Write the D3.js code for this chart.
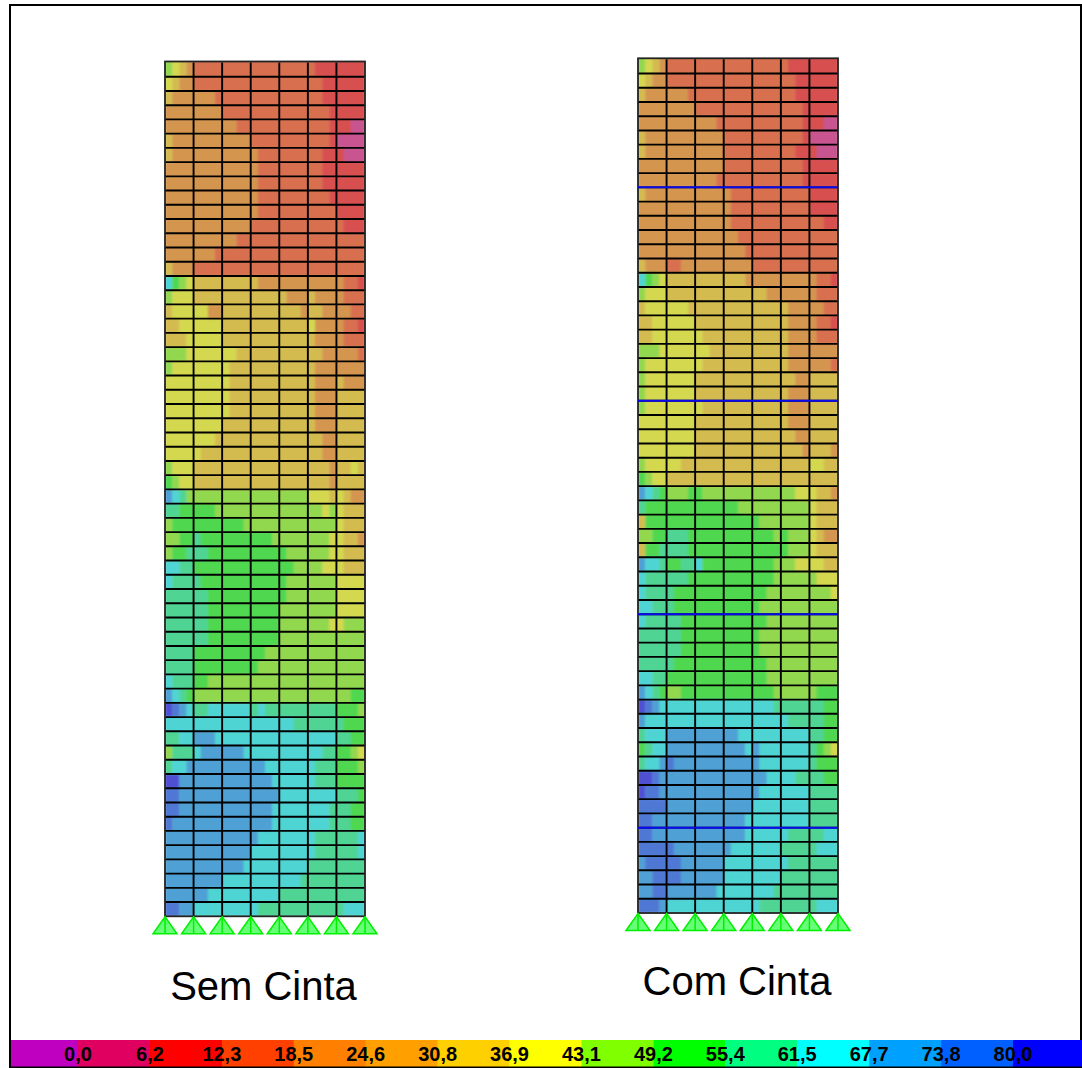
<!DOCTYPE html>
<html><head><meta charset="utf-8">
<script src="https://cdn.jsdelivr.net/npm/d3@7"></script>
<style>html,body{margin:0;padding:0;background:#fff}svg{display:block}</style>
</head><body><svg id="c" width="1082" height="1068"></svg>
<script>
// Stress bands (a = lowest ... m = highest), 4 samples per panel, 60 courses.
const bandKeys = "abcdefghijklm".split("");
const bandColors = ["#c8558f","#d85050","#d87050","#d49550","#d4bb50","#d4d850","#92d850","#50d850","#50d494","#50d4d4","#50a0d4","#5078d4","#5050d4"];
const semCinta = [
"gfed cccc cccc cccc cccc cbbb bbbb","fedd cccc cccc cccc cccc ccbb bbbb","eddd dddc cccc cccc cccc ccbb bbbb",
"dddd dddd cccc cccc cccc cccb bbbb","dddd dddd ddcc cccc cccc cccb bbaa","eddd dddd dddd cccc cccc cccb aaaa",
"eddd dddd dddd dccc cccc ccbb baaa","dddd dddd dddd dccc cccc ccbb bbbb","dddd dddd dddd dccc cccc ccbb bbbb",
"dddd dddd dddd dccc cccc cccb bbbb","dddd dddd dddd dccc cccc cccc bbbb","dddd dddd dddd cccc cccc cccc cbbb",
"dddd dddd ddcc cccc cccc cccc cccc","dddd dddc cccc cccc cccc cccc cccc","eddd cccc cccc cccc cccc cccc cccc",
"jhgf eeee eeee eddd dddd dddd dccb","gfff eeee eeee eeee eddd eddd dccc","efff ffdd eeee eeee eeed eedd ddcc",
"eeff ffff eeee eeee eeee fddd dccb","eeef ffff eeee eeee eeee eddd dccc","gggf ffff ffee eeee eeee eedd dddc",
"gfff ffff feee eeee eeee eddd dddd","ffff ffff feee eeee eeee eddd eddd","ffff ffff feee eeee eeee eddd eeee",
"ffff ffff feee eeee eeee eddd eeee","ffff ffff eeee eeee eeee eddd eeee","ffff fffe eeee eeee eeee eedd eeee",
"ffff feee eeee eeee eeee eedd eeee","gfff eeee eeee eeee eeee eeed eefe","hgff eeee eeee eeee eeee eeed eeee",
"kjig gggg gggg gggg gggg fffe fedd","iihh hhhg gggg gggg gggg ggfg feee","ghhh hhhh hhhg gggg gggg gggg feee",
"gghh ihhh hhhh hhhg gggg gggf feed","ghhi iihh hhhh hhhh hggg gggf feee","jjii hhhh hhhh hhhh hhgg ggff feee",
"jiii ihhh hhhh hhhh hggg gggg ffff","iiii iihh hhhh hhhh hggg gggg ffff","iiii iihh hhhh hhhh gggg gggg ffff",
"iiii iihh hhhh hhhh gggg gggf fggg","iiii iihh hhhh hhhh gggg gggg gggg","iiii hhhh hhhh hhgg gggg gggg gggg",
"iiii hhhh hhhh hggg gggg gggg gggg","jiii hhgg gggg gggg gggg gggg gggg","kjih gggg gggg gggg gggg gggg gghh",
"mlkj iijj jjjj ijii iiii iiii hhhg","jjjj jjjj jjjj jjjj jjii iiii ihhh","iijj kkkj jjjj jjjj jjjj jjjj iihh",
"giii jkkk kkkj jjjj jjjj jjii hhgf","ijjk kkkk kkkk kkjj jjjj jiii hhhg","mmkk kkkk kkkk kkkj jjjj jiii hhhh",
"llkk kkkk kkkk kkkk jjjj jjjj iiih","llkk kkkk kkkk kkkj jjjj jjji iihh","lkkk kkkk kkkk kkkj jjjj jjji iihh",
"kkkk kkkk kkkk kjjj jjjj jiii iiij","kkkk kkkk kkkk jjjj jjjj jiii iiij","kkkk kkkk kkkj jjjj jjjj iiii iiii",
"kkkk kkkk jjjj jjjj jjji iiii iiii","kkkk kkjj jjjj jjjj iiii iiii iiii","llkk jjjj jjjj jiii iiii iiii ijjj"
];
const comCinta = [
"gfed cccc cccc cccc cccc cbbb bbbb","fedd cccc cccc cccc cccc ccbb bbbb","eddd dddc cccc cccc cccc ccbb bbbb",
"dddd dddd cccc cccc cccc cccb bbbb","dddd dddd dddc cccc cccc cccb bbaa","eddd dddd dddd cccc cccc cccb aaaa",
"eddd dddd dddd cccc cccc ccbb baaa","dddd dddd dddd cccc cccc cccb bbbb","dddd dddd dddc cccc cccc cccb bbbb",
"eddd dddd dddd dccc cccc cccc bbbb","dddd dddd dddd dccc cccc cccc bbbb","dddd dddd dddd dccc cccc cccc ccbb",
"dddd dddd dddd ddcc cccc cccc cccc","dddd dddd dddd dddc cccc cccc cccc","eddd ccdd dddd dddd cccc cccc cccc",
"jhgf eeee eeee eeed dddd dddd dccb","gfff eeee eeee eeee eedd dddd dccc","efff fffe eeee eeee eeee eddd ddcc",
"eeff ffff eeee eeee eeee eddd dccb","eeff ffff feee eeee eeee eddd dccc","gggf ffff ffee eeee eeee eddd dddd",
"gfff ffff feee eeee eeee eddd dddc","gfff ffff eeee eeee eeee eedd eeee","gfff ffff eeee eeee eeee eddd eeee",
"gfff ffff feee eeee eeee eddd eeee","ffff ffff eeee eeee eeee eddd eeee","ffff ffff eeee eeee eeee eedd eeee",
"ffff ffff eeee eeee eeee eeed eeed","gfff ffee eeee eeee eeee eeee ffee","hgff eeee eeee eeee eeee eeee eeee",
"kjih gggh hggg gggg gggg ggff feed","ihhh hhhh hhhh hhgg gggg gggg feee","ehhh hhhh hhhh hhhh hggg gggg feee",
"gghh iiih hhhh hhhh hhhg hggg fedd","ehhi iiih hhhh hhhh hhhh hggg feee","kjji hhii jhhh hhhh hhhg ggff ffee",
"jiii iiih hhhh hhhh hhhg gggg gfff","jiii ihhh hhhh hhhh hhgg gggg gggf","jjii ihhh hhhh hhhh hggg gggg gggg",
"jiii iihh hhhh hhhh hhgg gggg gggg","iiii iihh hhhh hhhh hggg gggg gggg","iiii iihh hhhh hhhh hggg gggg gggg",
"iiii ihhh hhhh hhhh hhgg gggg gggg","jjii hhhh hhhh hhhh hhgg gggg gggg","kjih gghh hhhh hhhh hhhg gggg ghhh",
"mlkj jjjj jjjj jjjj jjji iiii iihh","kjjj jjjj jjjj jjjj jjjj jiii iihh","ijjj kkkk kkkk kkjj jjjj jjjj iihh",
"hijj kkkk kkkk kkkj kjjj jjjj ihgf","ijjk lkkk kkkk kkkk kjjj jjjj ihhh","mmlk kkkk kkkk kkkk kkjj jjii iihh",
"mllk kkkk kkkk kkkk kjjj jjjj iiii","llll kkkk kkkk kkkk jjjj jjjj iiii","llkk kkkk kkkk kkkj jjjj jjjj iiii",
"llkk kkkk kkkk kkkj jjjj jiii iijj","llll lkkk kkkk kjjj jjjj iiii ijjj","klll llkk kkkk jjjj jjjj jiii iiii",
"kkll llkk kkkk jjjj jjjj iiii iiii","kkll kkkk kkkj jjjj jjji iiii iiii","lllk jjjj jjjj jjjj jiii iiii ijjj"
];
const beamCourses = [9, 24, 39, 54];
const panelCount = 7, courseCount = 60;
const legendTicks = ["0,0","6,2","12,3","18,5","24,6","30,8","36,9","43,1","49,2","55,4","61,5","67,7","73,8","80,0"];
const legendColors = ["#c000c0","#e00060","#ff0000","#ff4000","#ff8000","#ffa000","#ffd000","#ffff00","#80ff00","#00ff00","#00ff80","#00ffff","#00a0ff","#0060ff","#0000ff"];

const svg = d3.select("#c");
const band = d3.scaleOrdinal(bandKeys, bandColors);
const defs = svg.append("defs");
defs.append("filter").attr("id","soft").attr("x","-2%").attr("y","-2%").attr("width","104%").attr("height","104%")
  .append("feGaussianBlur").attr("stdDeviation",1.1);

// frame
svg.append("rect").attr("x",10).attr("y",5).attr("width",1071).attr("height",1062)
  .attr("fill","#fff").attr("stroke","#000").attr("stroke-width",2);

function wall(rows, box, title, beams) {
  const x = d3.scaleLinear([0, panelCount], [box.x0, box.x1]);
  const y = d3.scaleLinear([0, courseCount], [box.y0, box.y1]);
  const g = svg.append("g");
  const runs = [];
  rows.forEach((r, ri) => {
    const s = r.replace(/ /g,"");
    let start = 0;
    for (let i = 1; i <= s.length; i++) {
      if (i === s.length || s[i] !== s[start]) {
        runs.push({ri, a:start/4, b:i/4, k:s[start]});
        start = i;
      }
    }
  });
  // clip the softened contours to the wall outline
  const cid = "clip" + box.x0;
  defs.append("clipPath").attr("id",cid).append("rect")
    .attr("x",x(0)).attr("y",y(0)-1).attr("width",x(panelCount)-x(0)).attr("height",y(courseCount)-y(0)+1);
  g.append("g").attr("clip-path",`url(#${cid})`).append("g").attr("filter","url(#soft)")
    .selectAll("rect").data(runs).join("rect")
    .attr("x",d=>x(d.a)).attr("width",d=>x(d.b)-x(d.a)+0.4)
    .attr("y",d=>y(d.ri)-(d.ri===0?2:0)).attr("height",d=>y(d.ri+1)-y(d.ri)+0.4+(d.ri===0?2:0))
    .attr("fill",d=>band(d.k));
  // courses and panels
  g.append("g").selectAll("line").data(d3.range(1,courseCount)).join("line")
    .attr("x1",x(0)).attr("x2",x(panelCount)).attr("y1",d=>y(d)).attr("y2",d=>y(d))
    .attr("stroke","#000").attr("stroke-width",1.9);
  g.append("g").selectAll("line").data(d3.range(1,panelCount)).join("line")
    .attr("y1",y(0)).attr("y2",y(courseCount)).attr("x1",d=>x(d)).attr("x2",d=>x(d))
    .attr("stroke","#000").attr("stroke-width",1.9);
  g.append("rect").attr("x",x(0)).attr("y",y(0)-1).attr("width",x(panelCount)-x(0)).attr("height",y(courseCount)-y(0)+1)
    .attr("fill","none").attr("stroke","#222").attr("stroke-width",1.8);
  g.append("g").selectAll("line").data(beams).join("line")
    .attr("x1",x(0)).attr("x2",x(panelCount)).attr("y1",d=>y(d)).attr("y2",d=>y(d))
    .attr("stroke","#0a0aee").attr("stroke-width",2);
  // supports
  const base = y(courseCount);
  const sup = g.append("g").selectAll("g").data(d3.range(0,panelCount+1)).join("g")
    .attr("transform",d=>`translate(${x(d)},${base+0.5})`);
  sup.append("path").attr("d","M0,0L12,17L-12,17Z")
    .attr("fill","#66ff77").attr("stroke","#00f000").attr("stroke-width",1.5);
  sup.append("line").attr("x1",0).attr("x2",0).attr("y1",0).attr("y2",17).attr("stroke","#00f000").attr("stroke-width",1.5);
  svg.append("text").attr("x",box.tx).attr("y",box.ty).attr("text-anchor","middle")
    .attr("font-family","Liberation Sans").attr("font-size",40).attr("fill","#000").text(title);
}
wall(semCinta, {x0:165,x1:365,y0:62.5,y1:916.3,tx:263.5,ty:1000}, "Sem Cinta", []);
wall(comCinta, {x0:638,x1:838,y0:59.3,y1:913,tx:737,ty:995}, "Com Cinta", beamCourses);

// legend
const lx = d3.scaleLinear([0, legendTicks.length-1], [78, 1013]);
const edges = [11, ...legendTicks.map((t,i)=>lx(i)), 1082];
const leg = svg.append("g");
leg.selectAll("rect").data(legendColors).join("rect")
  .attr("x",(d,i)=>edges[i]).attr("width",(d,i)=>edges[i+1]-edges[i]+0.3)
  .attr("y",1040).attr("height",26.5).attr("fill",d=>d);
leg.selectAll("text").data(legendTicks).join("text")
  .attr("x",(d,i)=>lx(i)).attr("y",1061).attr("text-anchor","middle")
  .attr("font-family","Liberation Sans").attr("font-weight","bold").attr("font-size",20).attr("fill","#000").text(d=>d);
</script></body></html>
